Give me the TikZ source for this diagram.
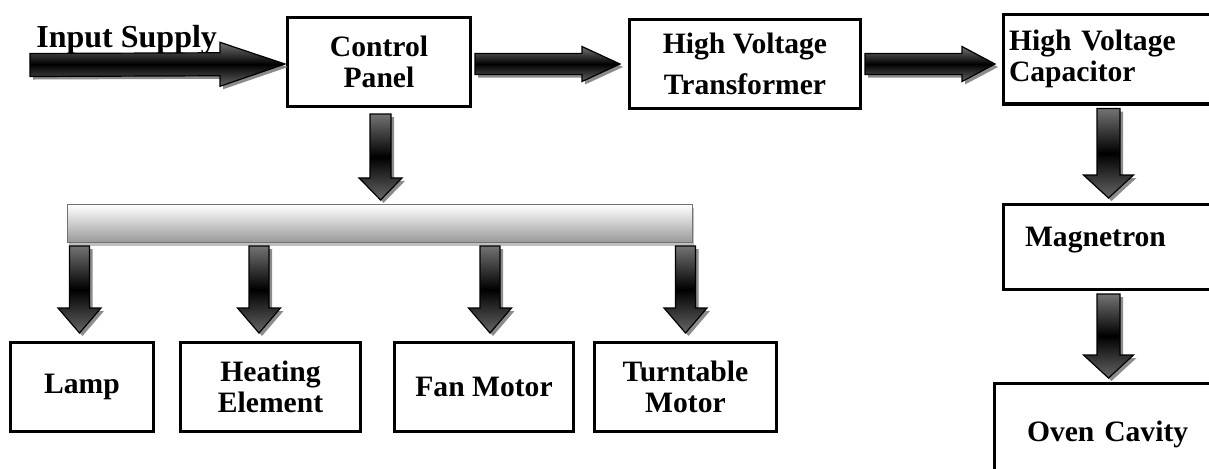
\documentclass[tikz,border=0pt]{standalone}
\usepackage{fontspec}
\setmainfont{Liberation Serif}
\usetikzlibrary{calc, shadows}

\newcommand{\boxfont}{\fontsize{14.8}{15.5}\selectfont\bfseries}
% fat shaded arrow: start, tip, head length, head half width, shaft half width
\newcommand{\fatarrow}[5]{%
  \coordinate (fa-s) at (#1);
  \coordinate (fa-t) at (#2);
  \coordinate (fa-h) at ($(fa-t)!#3!(fa-s)$);
  \path[fatshaft] ($(fa-s)!#5!90:(fa-t)$) -- ($(fa-h)!#5!90:(fa-t)$) -- ($(fa-h)!#4!90:(fa-t)$) -- (fa-t)
    -- ($(fa-h)!#4!-90:(fa-t)$) -- ($(fa-h)!#5!-90:(fa-t)$) -- ($(fa-s)!#5!-90:(fa-t)$) -- cycle;
}
% drop from the bus bar to a box: box, x offset
\newcommand{\busdrop}[2]{%
  \coordinate (bd-t) at ($(#1.north)+(#2,-8)$);
  \fatarrow{$(bd-t |- bus.south)+(0,3)$}{bd-t}{12.5pt}{10.75pt}{5pt}
}

\begin{document}
\begin{tikzpicture}[x=0.5pt, y=-0.5pt,
    blockbox/.style={draw, line width=1.6pt, fill=white, align=center, inner sep=2pt, font=\boxfont, minimum height=44.4pt},
    sidebox/.style={blockbox, align=left, minimum width=118.4pt},
    busbar/.style={draw=black!55, line width=0.75pt, top color=white, bottom color=black!40, minimum width=312.3pt, minimum height=18.8pt, drop shadow={shadow xshift=0.8pt, shadow yshift=-1.8pt, fill=black!25, opacity=1}},
    fatshaft/.style={draw=black, line width=0.6pt, top color=black!55, bottom color=black!60, middle color=black, drop shadow={shadow xshift=1.5pt, shadow yshift=-1.5pt, fill=black!45, opacity=1}}
  ]
  \clip (0,0) rectangle (1209,468);

  % top row
  \node[font=\fontsize{16}{17}\selectfont\bfseries, anchor=base west, inner sep=0pt] (supply) at (36,47) {Input Supply};
  \node[blockbox, minimum width=91.4pt] (cp) at (379,62) {Control\\Panel};
  \node[blockbox, minimum width=115.4pt] (hvt) at (745,64) {High Voltage\\[5pt]Transformer};
  \node[sidebox, text width=113pt, minimum height=44.9pt] (hvc) at (1122,59) {High Voltage\\Capacitor};

  % right column
  \node[sidebox, text width=97pt, minimum height=42.4pt, text depth=10pt] (mag) at (1122,247) {Magnetron};
  \node[sidebox, text width=90.5pt, minimum width=122.9pt, minimum height=50.4pt] (oven) at (1117.5,434) {Oven Cavity};

  % bus bar and loads
  \node[busbar] (bus) at (380,223.5) {};
  \node[blockbox, minimum width=71.4pt] (lamp) at (82,387) {Lamp};
  \node[blockbox, minimum width=89.9pt] (heat) at (270.5,387) {Heating\\Element};
  \node[blockbox, minimum width=89.4pt] (fan) at (484,387) {Fan Motor};
  \node[blockbox, minimum width=90.9pt] (turn) at (685.5,387) {Turntable\\Motor};

  % arrows
  \coordinate (in) at (30,65);
  \fatarrow{in}{$(cp.west)+(-1,2)$}{32.5pt}{11pt}{5.75pt}
  \fatarrow{$(cp.east |- hvt.west)+(3,0)$}{$(hvt.west)+(-8,0)$}{19pt}{8.75pt}{5.25pt}
  \fatarrow{$(hvt.east)+(3,0)$}{$(hvc.west |- hvt.east)+(-7,0)$}{16.5pt}{8.75pt}{5.25pt}
  \fatarrow{$(hvc.south west)+(106.5,3)$}{$(mag.north west)+(106.5,-5)$}{11.5pt}{12.5pt}{5.75pt}
  \fatarrow{$(mag.south west)+(106.5,3)$}{$(mag.south west |- oven.north)+(106.5,-4)$}{11.5pt}{12.5pt}{5.75pt}
  \fatarrow{$(cp.south)+(1.5,6)$}{$(cp.south |- bus.north)+(1.5,-4)$}{11pt}{10.75pt}{5.25pt}
  \busdrop{lamp}{-2.5}
  \busdrop{heat}{-11.5}
  \busdrop{fan}{6}
  \busdrop{turn}{0}
\end{tikzpicture}
\end{document}
